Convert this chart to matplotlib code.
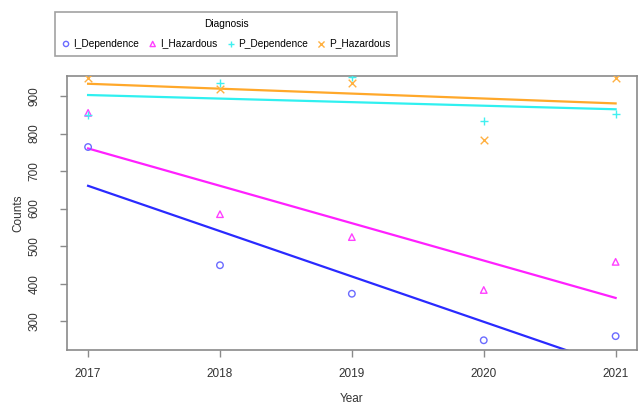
import matplotlib
matplotlib.use("Agg")
import matplotlib.pyplot as plt
import numpy as np

plt.rcParams['font.family'] = ['Liberation Sans', 'DejaVu Sans']

years = [2017, 2018, 2019, 2020, 2021]
series_names = ["I_Dependence", "I_Hazardous", "P_Dependence", "P_Hazardous"]
i_dependence = [764, 449, 373, 249, 260]
i_hazardous = [855, 585, 524, 383, 458]
p_dependence = [849, 934, 950, 833, 852]
p_hazardous = [947, 918, 935, 783, 949]

marker_colors = ["#6b6bff", "#ff40ff", "#40f0f0", "#ffb040"]
line_colors = ["#2a2aff", "#ff20ff", "#30f0f0", "#ffa82a"]
markers = ["o", "^", "+", "x"]
frame = "#8a8a8a"

fig = plt.figure(figsize=(6.38, 4.07), dpi=100)
ax = fig.add_axes([0.105, 0.140, 0.893, 0.673])

x = np.array(years, dtype=float)
handles = []
for vals, mc, lc, mk, name in zip([i_dependence, i_hazardous, p_dependence, p_hazardous],
                                  marker_colors, line_colors, markers, series_names):
    v = np.array(vals, dtype=float)
    if mk in ("o", "^"):
        h = ax.scatter(x, v, marker=mk, facecolors="none", edgecolors=mc, s=22, linewidths=1.0, zorder=3, label=name)
    else:
        h = ax.scatter(x, v, marker=mk, c=mc, s=30, linewidths=1.0, zorder=3, label=name)
    handles.append(h)
    slope, icpt = np.polyfit(x, v, 1)
    xs = np.array([years[0], years[-1]], dtype=float)
    ax.plot(xs, slope * xs + icpt, color=lc, lw=1.6, zorder=2)

ax.set_xlim(2016.84, 2021.16)
ax.set_ylim(223, 953)
ax.set_xticks(years)
ax.set_yticks([300, 400, 500, 600, 700, 800, 900])
for s in ax.spines.values():
    s.set_color(frame)
    s.set_linewidth(1.2)
ax.tick_params(axis="both", colors=frame, length=5, width=1.0, labelcolor="#333333", labelsize=8.5)
ax.tick_params(axis="x", pad=8)
ax.tick_params(axis="y", pad=14)
for lab in ax.get_yticklabels():
    lab.set_rotation(90)
    lab.set_va("center")
ax.set_xlabel("Year", fontsize=8.5, color="#333333", labelpad=9)
ax.set_ylabel("Counts", fontsize=8.5, color="#333333", labelpad=3)

leg = fig.legend(handles=handles, labels=series_names, title="Diagnosis", ncol=4,
                 loc="upper left", bbox_to_anchor=(0.086, 0.971), borderaxespad=0,
                 fontsize=7.3, title_fontsize=7.3, frameon=True, fancybox=False,
                 edgecolor=frame, handletextpad=0.35, columnspacing=0.9,
                 handlelength=0.8, borderpad=0.7, markerscale=0.8)
leg.get_frame().set_linewidth(1.2)
leg._legend_box.sep = 7

fig.savefig("out.png", dpi=100)
